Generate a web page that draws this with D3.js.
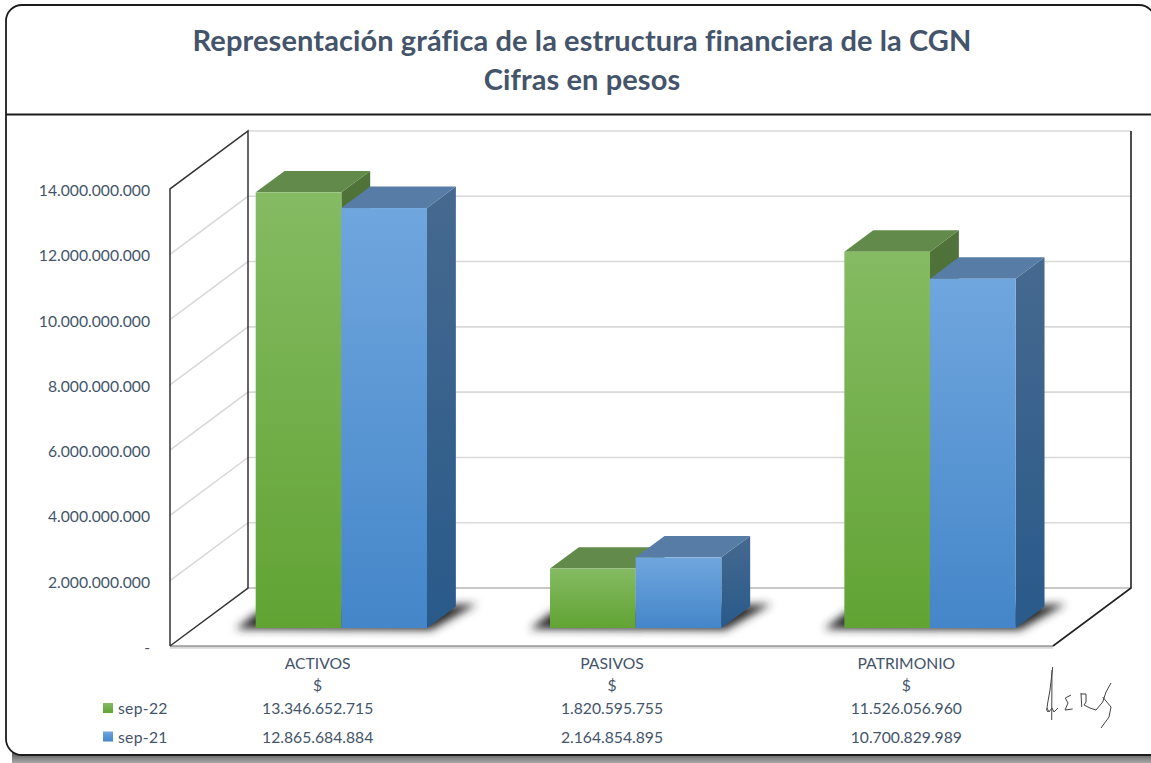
<!DOCTYPE html>
<html lang="es">
<head>
<meta charset="UTF-8">
<title>Estructura financiera de la CGN</title>
<script src="https://d3js.org/d3.v7.min.js"></script>
<style>
  html, body { margin: 0; padding: 0; background: #fff; }
  svg { display: block; }
  text { font-family: Lato, "Open Sans", sans-serif; fill: #44546a; }
</style>
</head>
<body>
<svg id="chart" width="1151" height="763"></svg>
<script>
const categories = ["ACTIVOS", "PASIVOS", "PATRIMONIO"];
const seriesNames = ["sep-22", "sep-21"];
const sep22 = [13346652715, 1820595755, 11526056960];
const sep21 = [12865684884, 2164854895, 10700829989];
const tickValues = [0, 2e9, 4e9, 6e9, 8e9, 10e9, 12e9, 14e9];
const titleLines = ["Representación gráfica de la estructura financiera de la CGN", "Cifras en pesos"];

const seriesValues = [sep22, sep21];
const fmt = d => d === 0 ? "-" : d3.format(",")(Math.round(d)).replace(/,/g, ".");

const svg = d3.select("#chart");
const defs = svg.append("defs");

function gradient(id, top, bottom) {
  const g = defs.append("linearGradient").attr("id", id).attr("x1", 0).attr("y1", 0).attr("x2", 0).attr("y2", 1);
  g.append("stop").attr("offset", "0%").attr("stop-color", top);
  g.append("stop").attr("offset", "100%").attr("stop-color", bottom);
}
gradient("front0", "#85bb63", "#61a333");
gradient("front1", "#70a6de", "#4486c9");
gradient("side0", "#50733a", "#3f6a26");
gradient("side1", "#46698f", "#295a8a");
gradient("frameBottom", "#333333", "#a8a8a8");
defs.append("filter").attr("id", "blur").attr("x", "-20%").attr("y", "-50%").attr("width", "140%").attr("height", "200%")
  .append("feGaussianBlur").attr("stdDeviation", 4);

// frame: top right corner is cut by the picture, bottom runs straight off the edge
svg.append("rect").attr("x", 12).attr("y", 748).attr("width", 1139).attr("height", 15)
  .attr("fill", "url(#frameBottom)");
svg.append("path")
  .attr("d", "M1165 755H22A16 16 0 0 1 6 739V21A16 16 0 0 1 22 5H1139A16 16 0 0 1 1155 21V755")
  .attr("fill", "#fff").attr("stroke", "#1c1c1c").attr("stroke-width", 1.8);
svg.append("line").attr("x1", 6).attr("x2", 1151).attr("y1", 114.5).attr("y2", 114.5)
  .attr("stroke", "#1c1c1c").attr("stroke-width", 1.8);

// title
svg.append("g").selectAll("text").data(titleLines).enter().append("text")
  .attr("x", 582).attr("y", (d, i) => 51 + i * 39)
  .attr("text-anchor", "middle").attr("font-size", 29).attr("font-weight", 700)
  .style("letter-spacing", "0.1px")
  .text(d => d);

// scales: front plane of the box, depth runs from 0 (front) to 1 (back wall)
const x = d3.scaleBand().domain(categories).range([170, 1053]).paddingInner(0.418).paddingOuter(0.209);
const xSeries = d3.scaleBand().domain(seriesNames).range([0, x.bandwidth()]);
const y = d3.scaleLinear().domain([0, 14e9]).range([646, 189]);
const depthX = d3.scaleLinear().domain([0, 1]).range([0, 78]);
const depthY = d3.scaleLinear().domain([0, 1]).range([0, -58]);
const px = (a, d) => a + depthX(d);
const py = (v, d) => y(v) + depthY(d);
const barFront = 0.31, barBack = 0.68;
const line = d3.line();

const wall = svg.append("g").attr("fill", "none");

// gridlines on the back and side wall
wall.selectAll(".grid").data(tickValues.slice(1)).enter().append("path")
  .attr("d", d => line([[px(170, 0), py(d, 0)], [px(170, 1), py(d, 1)], [px(1053, 1), py(d, 1)]]))
  .attr("stroke", "#d9d9d9").attr("stroke-width", 1.6);

// floor
wall.append("path")
  .attr("d", line([[px(170, 1), py(0, 1)], [px(1053, 1), py(0, 1)]]))
  .attr("stroke", "#c9c9c9").attr("stroke-width", 2.2);
wall.append("path")
  .attr("d", line([[px(170, 0), py(0, 0) + 1.5], [px(1053, 0), py(0, 0) + 1.5]]))
  .attr("stroke", "#d8d8d8").attr("stroke-width", 2.5);
wall.append("path")
  .attr("d", line([[px(170, 0), py(0, 0)], [px(1053, 0), py(0, 0)]]))
  .attr("stroke", "#666").attr("stroke-width", 1.2);

// dark wall edges
wall.append("path")
  .attr("d", line([[px(170, 0), py(0, 0)], [px(170, 0), py(14e9, 0)], [px(170, 1), py(14e9, 1)], [px(170, 1), py(0, 1)], [px(170, 0), py(0, 0)]]))
  .attr("stroke", "#333").attr("stroke-width", 1.5);
wall.append("path")
  .attr("d", line([[px(1053, 1), py(14e9, 1)], [px(1053, 1), py(0, 1)], [px(1053, 0), py(0, 0)]]))
  .attr("stroke", "#222").attr("stroke-width", 1.6);

// y tick labels
svg.append("g").selectAll("text").data(tickValues).enter().append("text")
  .attr("x", 150).attr("y", d => y(d) + 7)
  .attr("text-anchor", "end").attr("font-size", 15.7)
  .text(fmt);

// bars
const groups = svg.append("g").selectAll("g").data(categories).enter().append("g");

// soft shadow on the floor
groups.append("path")
  .attr("d", c => {
    const l = x(c) + depthX(barFront), r = l + x.bandwidth();
    return line([[l - 12, y(0) - 12], [r + 12, y(0) - 12]]);
  })
  .attr("stroke", "#c4c4c4").attr("stroke-width", 5).attr("fill", "none").attr("filter", "url(#blur)");
groups.append("path")
  .attr("d", c => {
    const l = x(c) + depthX(barFront), r = l + x.bandwidth();
    return line([[l - 20, y(0) - 17], [l + 2, y(0) - 34], [r + 50, y(0) - 42], [r + 4, y(0) - 16]]) + "Z";
  })
  .attr("fill", "#2b2b2b").attr("filter", "url(#blur)");

seriesNames.forEach((s, si) => {
  const bars = groups.append("g");
  const left = c => x(c) + xSeries(s);
  const right = c => left(c) + xSeries.bandwidth();
  const val = c => seriesValues[si][categories.indexOf(c)];

  // side
  bars.append("path")
    .attr("d", c => line([[px(right(c), barFront), py(val(c), barFront)], [px(right(c), barBack), py(val(c), barBack)], [px(right(c), barBack), py(0, barBack)], [px(right(c), barFront), py(0, barFront)]]) + "Z")
    .attr("fill", `url(#side${si})`);
  // top
  bars.append("path")
    .attr("d", c => line([[px(left(c), barFront), py(val(c), barFront)], [px(left(c), barBack), py(val(c), barBack)], [px(right(c), barBack), py(val(c), barBack)], [px(right(c), barFront), py(val(c), barFront)]]) + "Z")
    .attr("fill", si === 0 ? "#628a4a" : "#577ca6");
  // front
  bars.append("rect")
    .attr("x", c => px(left(c), barFront))
    .attr("y", c => py(val(c), barFront))
    .attr("width", xSeries.bandwidth())
    .attr("height", c => y(0) - y(val(c)))
    .attr("fill", `url(#front${si})`);
});

// category labels and data table
const cx = c => x(c) + x.bandwidth() / 2 + 0.5;
const labels = svg.append("g").attr("text-anchor", "middle").attr("font-size", 15.7);
labels.selectAll(".cat").data(categories).enter().append("text")
  .attr("x", cx).attr("y", 669).text(d => d);
labels.selectAll(".unit").data(categories).enter().append("text")
  .attr("x", cx).attr("y", 691).text("$");

seriesNames.forEach((s, si) => {
  const rowY = 714 + si * 28.5;
  labels.selectAll(".v" + si).data(categories).enter().append("text")
    .attr("x", cx).attr("y", rowY).text((c, i) => fmt(seriesValues[si][i]));
  svg.append("rect").attr("x", 103).attr("y", rowY - 11).attr("width", 10).attr("height", 10)
    .attr("fill", `url(#front${si})`);
  svg.append("text").attr("x", 118).attr("y", rowY).attr("font-size", 15.7).style("letter-spacing", "0.3px").text(s);
});

// signature
svg.append("g").attr("fill", "none").attr("stroke", "#444").attr("stroke-width", 1).attr("stroke-linejoin", "round")
  .selectAll("path").data([
    "M1052.7 667L1050 690L1047.7 703L1046.7 710L1048 712",
    "M1052 670L1051.7 720",
    "M1047 708L1049 712L1052 708L1054 712L1058 708",
    "M1071 695L1065.3 698L1068 703L1065 710L1072.7 709",
    "M1081 693L1081.7 707M1081 694L1086 694L1086 702L1084 705L1090 708",
    "M1090 708L1096 710L1102.7 702L1106 692L1111 683",
    "M1102.7 697L1111 707L1109 717L1101 728"
  ]).enter().append("path").attr("d", d => d);
</script>
</body>
</html>
